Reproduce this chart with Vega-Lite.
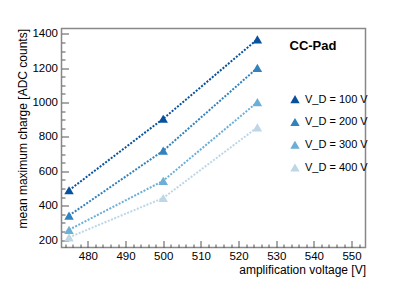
{
  "$schema": "https://vega.github.io/schema/vega-lite/v6.json",
  "autosize": "none",
  "width": 304,
  "height": 219,
  "padding": {"left": 61.5, "top": 28.5, "right": 41.5, "bottom": 44.5},
  "background": "white",
  "config": {
    "font": "Liberation Sans",
    "view": {"stroke": "#888888", "strokeWidth": 1.5},
    "axis": {
      "domain": false,
      "grid": false,
      "tickColor": "#555555",
      "labelColor": "#000000",
      "titleColor": "#000000",
      "labelFont": "Liberation Sans",
      "titleFont": "Liberation Sans",
      "labelFontSize": 11.5,
      "titleFontSize": 12,
      "titleFontWeight": "normal"
    },
    "legend": {
      "orient": "none",
      "legendX": 228,
      "legendY": 11.5,
      "titleFontSize": 13,
      "titleFontWeight": "bold",
      "titleFont": "Liberation Sans",
      "titleColor": "#000000",
      "titlePadding": 41,
      "labelFont": "Liberation Sans",
      "labelFontSize": 11,
      "labelColor": "#000000",
      "labelOffset": 4.5,
      "symbolType": "triangle-up",
      "symbolSize": 45,
      "rowPadding": 9.8,
      "padding": 0
    }
  },
  "data": {
    "values": [
      {"voltage": 475, "charge": 490, "vd": 100},
      {"voltage": 500, "charge": 906, "vd": 100},
      {"voltage": 525, "charge": 1368, "vd": 100},
      {"voltage": 475, "charge": 343, "vd": 200},
      {"voltage": 500, "charge": 720, "vd": 200},
      {"voltage": 525, "charge": 1202, "vd": 200},
      {"voltage": 475, "charge": 260, "vd": 300},
      {"voltage": 500, "charge": 545, "vd": 300},
      {"voltage": 525, "charge": 1003, "vd": 300},
      {"voltage": 475, "charge": 216, "vd": 400},
      {"voltage": 500, "charge": 445, "vd": 400},
      {"voltage": 525, "charge": 856, "vd": 400}
    ]
  },
  "resolve": {"axis": {"x": "independent", "y": "independent"}},
  "layer": [
    {
      "mark": {"type": "line", "strokeDash": [2, 1.5], "strokeWidth": 2},
      "encoding": {
        "x": {
          "field": "voltage", "type": "quantitative",
          "scale": {"domain": [473, 553.7], "nice": false, "zero": false},
          "axis": {
            "values": [480, 490, 500, 510, 520, 530, 540, 550],
            "tickSize": -7, "tickWidth": 1, "labelPadding": 10,
            "title": "amplification voltage [V]", "titleAnchor": "end",
            "titlePadding": 2, "labelFlush": false, "format": "d"
          }
        },
        "y": {
          "field": "charge", "type": "quantitative",
          "scale": {"domain": [157, 1431], "nice": false, "zero": false},
          "axis": {
            "values": [200, 400, 600, 800, 1000, 1200, 1400],
            "tickSize": -7, "tickWidth": 1, "labelPadding": 11,
            "title": "mean maximum charge [ADC counts]", "titleAnchor": "end",
            "titlePadding": 2, "labelFlush": false, "format": "d"
          }
        },
        "color": {
          "field": "vd", "type": "nominal",
          "scale": {"domain": [100, 200, 300, 400], "range": ["#08519c", "#3182bd", "#6baed6", "#bdd7e7"]},
          "legend": {"title": "CC-Pad", "labelExpr": "'V_D = ' + datum.label + ' V'"}
        },
        "detail": {"field": "vd"}
      }
    },
    {
      "mark": {"type": "point", "shape": "triangle-up", "filled": true, "opacity": 1, "size": 90},
      "encoding": {
        "x": {
          "field": "voltage", "type": "quantitative",
          "scale": {"domain": [473, 553.7], "nice": false, "zero": false},
          "axis": {
            "values": [474, 476, 478, 482, 484, 486, 488, 492, 494, 496, 498, 502, 504, 506, 508, 512, 514, 516, 518, 522, 524, 526, 528, 532, 534, 536, 538, 542, 544, 546, 548, 552],
            "orient": "bottom", "tickSize": -3.5, "tickWidth": 1, "labels": false, "title": null
          }
        },
        "y": {
          "field": "charge", "type": "quantitative",
          "scale": {"domain": [157, 1431], "nice": false, "zero": false},
          "axis": {
            "values": [250, 300, 350, 450, 500, 550, 650, 700, 750, 850, 900, 950, 1050, 1100, 1150, 1250, 1300, 1350],
            "orient": "left", "tickSize": -3.5, "tickWidth": 1, "labels": false, "title": null
          }
        },
        "color": {
          "field": "vd", "type": "nominal",
          "scale": {"domain": [100, 200, 300, 400], "range": ["#08519c", "#3182bd", "#6baed6", "#bdd7e7"]},
          "legend": {"title": "CC-Pad", "labelExpr": "'V_D = ' + datum.label + ' V'"}
        }
      }
    }
  ]
}
